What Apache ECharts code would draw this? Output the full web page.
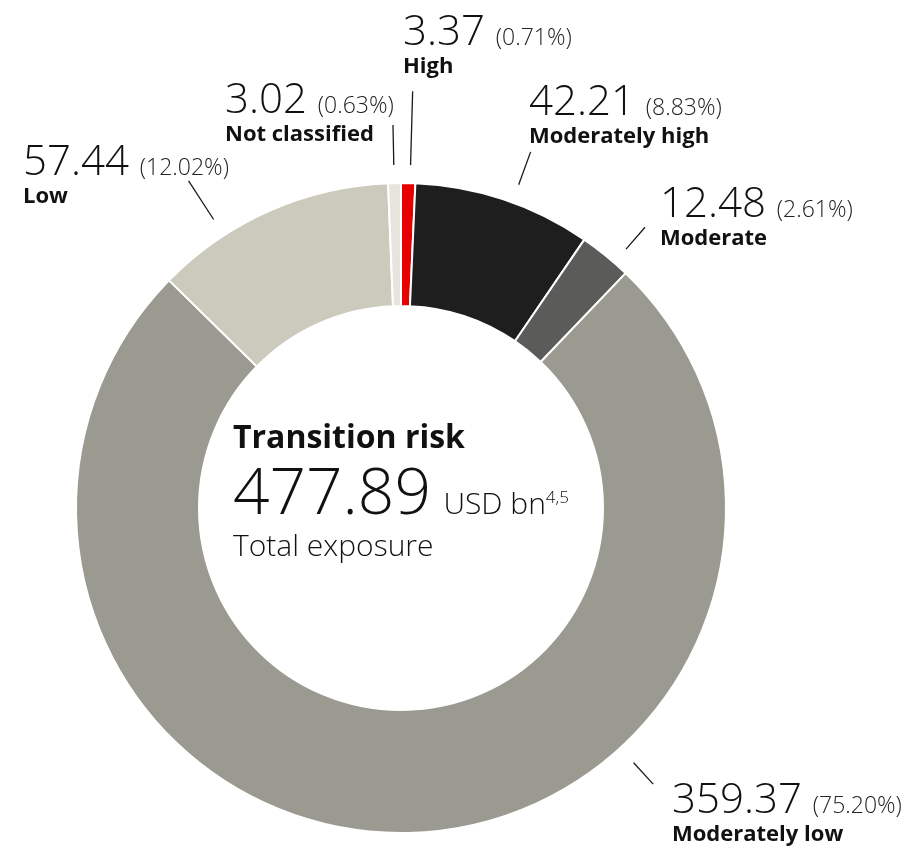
<!DOCTYPE html>
<html>
<head>
<meta charset="utf-8">
<script src="https://cdn.jsdelivr.net/npm/echarts@6/dist/echarts.min.js"></script>
<style>
  html, body { margin: 0; padding: 0; background: #fff; }
  #chart { width: 916px; height: 848px; }
</style>
</head>
<body>
<div id="chart"></div>
<script>
// 数据（单位：USD bn）
const categories = ['High', 'Moderately high', 'Moderate', 'Moderately low', 'Low', 'Not classified']
const values = [3.37, 42.21, 12.48, 359.37, 57.44, 3.02]
const colors = ['#e60000', '#1e1e1e', '#5b5b59', '#9a9a91', '#cccabd', '#e5e4dd']

// 标签位置（左上角），顺序同 categories
const labelPos = [[403, 12], [529, 82], [660, 184], [672, 780], [23, 142], [225, 80]]
// 引线：角度（顺时针，0 为正上方）、起止半径
const leader = [[1.6, 343, 417], [20, 344, 379], [41, 343, 372], [137.6, 345, 374], [327, 344, 390], [-1.2, 343, 383]]

const cx = 401
const cy = 508
const total = values.reduce((a, b) => a + b, 0)
const font = '"Open Sans", "Noto Sans", sans-serif'

const chart = echarts.init(document.getElementById('chart'))

const lines = leader.map(function (l) {
  const a = l[0] * Math.PI / 180
  return {
    type: 'line',
    shape: {
      x1: cx + Math.sin(a) * l[1],
      y1: cy - Math.cos(a) * l[1],
      x2: cx + Math.sin(a) * l[2],
      y2: cy - Math.cos(a) * l[2]
    },
    style: { stroke: '#1a1a1a', lineWidth: 1.3 }
  }
})

const option = {
  animation: false,
  series: [{
    type: 'pie',
    center: [cx, cy],
    radius: [202, 325],
    startAngle: 90,
    clockwise: true,
    avoidLabelOverlap: false,
    itemStyle: { borderColor: '#fff', borderWidth: 2 },
    label: {
      show: true,
      position: 'outside',
      formatter: function (p) {
        const pct = (p.value / total * 100).toFixed(2)
        return '{v|' + p.value.toFixed(2) + ' }{p|(' + pct + '%)}\n{n|' + p.name + '}'
      },
      rich: {
        v: { fontFamily: font, fontWeight: 300, fontSize: 42, lineHeight: 42, color: '#111', verticalAlign: 'bottom' },
        p: { fontFamily: font, fontWeight: 300, fontSize: 23, lineHeight: 42, height: 32, color: '#222', verticalAlign: 'bottom' },
        n: { fontFamily: font, fontWeight: 'bold', fontSize: 22, lineHeight: 26, color: '#111' }
      }
    },
    labelLine: { show: false },
    labelLayout: function (params) {
      const pos = labelPos[params.dataIndex]
      return { x: pos[0], y: pos[1], align: 'left', verticalAlign: 'top' }
    },
    data: categories.map(function (name, i) {
      return { name: name, value: values[i], itemStyle: { color: colors[i] } }
    })
  }],
  graphic: lines.concat([{
    type: 'text',
    left: 233,
    top: 423,
    style: {
      text: '{t|Transition risk}\n{big|' + total.toFixed(2) + '}{g| }{u|USD bn}{s|4,5}\n{e|Total exposure}',
      rich: {
        t: { fontFamily: font, fontWeight: 'bold', fontSize: 32, lineHeight: 45, fill: '#111' },
        big: { fontFamily: font, fontWeight: 300, fontSize: 64, lineHeight: 66, fill: '#111', verticalAlign: 'bottom' },
        g: { fontFamily: font, fontSize: 48, lineHeight: 66, verticalAlign: 'bottom' },
        u: { fontFamily: font, fontWeight: 300, fontSize: 30, lineHeight: 66, height: 45, fill: '#111', verticalAlign: 'bottom' },
        s: { fontFamily: font, fontWeight: 300, fontSize: 17, lineHeight: 66, height: 58, fill: '#111', verticalAlign: 'bottom' },
        e: { fontFamily: font, fontWeight: 300, fontSize: 30, lineHeight: 40, fill: '#111' }
      }
    }
  }])
}

chart.setOption(option)
window.addEventListener('resize', function () {
  chart.resize()
})
</script>
</body>
</html>
